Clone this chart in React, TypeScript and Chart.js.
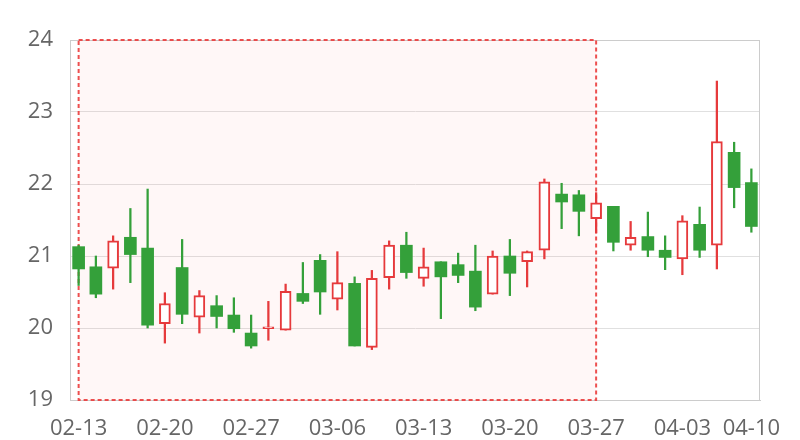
import React, { useEffect, useRef } from "react";
import { Chart, registerables } from "chart.js";

Chart.register(...registerables);

const dates = [
  "02-13", "02-14", "02-15", "02-16", "02-17",
  "02-20", "02-21", "02-22", "02-23", "02-24",
  "02-27", "02-28", "03-01", "03-02", "03-03",
  "03-06", "03-07", "03-08", "03-09", "03-10",
  "03-13", "03-14", "03-15", "03-16", "03-17",
  "03-20", "03-21", "03-22", "03-23", "03-24",
  "03-27", "03-28", "03-29", "03-30", "03-31",
  "04-03", "04-05", "04-06", "04-07", "04-10",
];

const openValues = [21.13, 20.85, 20.83, 21.26, 21.11, 20.06, 20.84, 20.15, 20.31, 20.18, 19.93, 19.99, 19.97, 20.48, 20.94, 20.40, 20.62, 19.73, 20.70, 21.15, 20.69, 20.92, 20.88, 20.79, 20.47, 21.00, 20.92, 21.08, 21.86, 21.85, 21.52, 21.69, 21.15, 21.27, 21.08, 20.96, 21.44, 21.15, 22.44, 22.02];
const closeValues = [20.82, 20.47, 21.21, 21.02, 20.04, 20.34, 20.19, 20.45, 20.16, 19.99, 19.75, 20.01, 20.51, 20.37, 20.50, 20.63, 19.75, 20.69, 21.15, 20.77, 20.85, 20.71, 20.73, 20.29, 21.00, 20.76, 21.06, 22.03, 21.75, 21.62, 21.74, 21.19, 21.26, 21.08, 20.98, 21.49, 21.08, 22.59, 21.95, 21.41];
const highValues = [21.15, 21.00, 21.28, 21.66, 21.93, 20.49, 21.23, 20.52, 20.45, 20.42, 20.18, 20.37, 20.61, 20.91, 21.02, 21.06, 20.71, 20.80, 21.21, 21.33, 21.11, 20.92, 21.04, 21.15, 21.07, 21.23, 21.07, 22.07, 22.01, 21.91, 21.88, 21.69, 21.48, 21.61, 21.28, 21.56, 21.68, 23.43, 22.58, 22.21];
const lowValues = [20.59, 20.42, 20.54, 20.63, 20.00, 19.79, 20.06, 19.93, 20.00, 19.94, 19.72, 19.83, 19.97, 20.34, 20.19, 20.25, 19.75, 19.70, 20.54, 20.69, 20.58, 20.13, 20.63, 20.24, 20.47, 20.45, 20.57, 20.96, 21.38, 21.28, 21.32, 21.07, 21.08, 20.99, 20.81, 20.74, 20.98, 20.82, 21.67, 21.33];

const shownTickLabels = ["02-13", "02-20", "02-27", "03-06", "03-13", "03-20", "03-27", "04-03", "04-10"];
const yMin = 19;
const yMax = 24;
const markAreaStart = "02-13";
const markAreaEnd = "03-27";

const UP = "#e63a3c";
const DOWN = "#34a03a";

const frameAndMarkPlugin = {
  id: "frameAndMark",
  beforeDatasetsDraw(chart: any) {
    const { ctx, chartArea } = chart;
    const { left, right, top, bottom } = chartArea;
    const x = chart.scales.x;
    const y = chart.scales.y;
    ctx.save();
    ctx.strokeStyle = "#cccccc";
    ctx.lineWidth = 1;
    ctx.beginPath();
    ctx.moveTo(left, Math.round(top) + 0.5);
    ctx.lineTo(right, Math.round(top) + 0.5);
    ctx.moveTo(Math.round(right) - 0.5, top);
    ctx.lineTo(Math.round(right) - 0.5, bottom);
    ctx.stroke();
    const x0 = x.getPixelForValue(dates.indexOf(markAreaStart));
    const x1 = x.getPixelForValue(dates.indexOf(markAreaEnd));
    const y0 = y.getPixelForValue(yMax);
    const y1 = y.getPixelForValue(yMin);
    ctx.fillStyle = "rgba(255,0,0,0.03)";
    ctx.fillRect(x0, y0, x1 - x0, y1 - y0);
    ctx.setLineDash([4, 3]);
    ctx.lineWidth = 2;
    ctx.strokeStyle = "rgba(235,60,60,0.9)";
    ctx.strokeRect(x0, y0, x1 - x0, y1 - y0);
    ctx.restore();
  },
};

export default function App() {
  const ref = useRef<HTMLCanvasElement | null>(null);

  useEffect(() => {
    if (!ref.current) return;
    const isUp = dates.map((_, i) => closeValues[i] >= openValues[i]);
    const upBodies = dates.map((_, i) => (isUp[i] ? [openValues[i], closeValues[i]] : null));
    const downBodies = dates.map((_, i) => (!isUp[i] ? [closeValues[i], openValues[i]] : null));
    const wicks = dates.map((_, i) => [lowValues[i], highValues[i]]);
    const wickColors = isUp.map((u) => (u ? UP : DOWN));

    const font = { family: "'Open Sans', sans-serif", size: 22 };

    const chart = new Chart(ref.current, {
      type: "bar",
      data: {
        labels: dates,
        datasets: [
          {
            label: "up",
            data: upBodies as any,
            backgroundColor: "#ffffff",
            borderColor: UP,
            borderWidth: 2,
            borderSkipped: false,
            barThickness: 11,
            grouped: false,
            minBarLength: 2,
          },
          {
            label: "down",
            data: downBodies as any,
            backgroundColor: DOWN,
            borderWidth: 0,
            barThickness: 12,
            grouped: false,
          },
          {
            label: "wick",
            data: wicks as any,
            backgroundColor: wickColors,
            borderWidth: 0,
            barThickness: 1.6,
            grouped: false,
          },
        ],
      },
      options: {
        responsive: false,
        animation: false,
        layout: { padding: { top: 40, right: 40, left: 0, bottom: 0 } },
        plugins: { legend: { display: false }, tooltip: { enabled: false } },
        scales: {
          x: {
            offset: true,
            grid: { display: false, drawTicks: false },
            border: { display: true, color: "#cccccc" },
            ticks: {
              autoSkip: false,
              maxRotation: 0,
              minRotation: 0,
              padding: 16,
              color: "#666666",
              font,
              callback: (_v: any, i: number) => (shownTickLabels.includes(dates[i]) ? dates[i] : ""),
            },
            afterFit: (s: any) => {
              s.height = 40;
            },
          },
          y: {
            min: yMin,
            max: yMax,
            grid: { color: "#e0e0e0", drawTicks: false },
            border: { display: true, color: "#cccccc" },
            ticks: { stepSize: 1, padding: 17, color: "#666666", font },
            afterFit: (s: any) => {
              s.width = 70;
            },
          },
        },
      },
      plugins: [frameAndMarkPlugin],
    });
    return () => chart.destroy();
  }, []);

  return (
    <div style={{ position: "absolute", left: 0, top: 0, width: 800, height: 440 }}>
      <canvas ref={ref} width={800} height={440} />
    </div>
  );
}
